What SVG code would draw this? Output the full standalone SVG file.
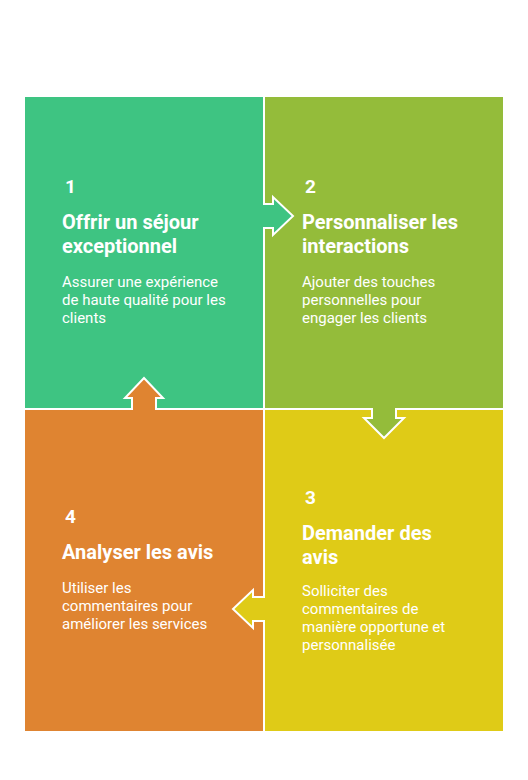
<svg xmlns="http://www.w3.org/2000/svg" width="528" height="780" viewBox="0 0 528 780">
<style>
.num{font-family:Roboto,"Liberation Sans",sans-serif;font-weight:700;font-size:19px;fill:#fff}
.ttl{font-family:Roboto,"Liberation Sans",sans-serif;font-weight:700;font-size:20px;fill:#fff}
.dsc{font-family:Roboto,"Liberation Sans",sans-serif;font-weight:400;font-size:15px;fill:#fff}
.out{fill:none;stroke:#fff;stroke-width:2;stroke-linejoin:miter}
</style>
<rect width="528" height="780" fill="#fff"/>
<g id="node1">
<rect x="25" y="97" width="238" height="311" fill="#3EC482"/>
<text class="num" x="65" y="193">1</text>
<text class="ttl" x="62" y="229">Offrir un séjour</text>
<text class="ttl" x="62" y="253">exceptionnel</text>
<text class="dsc" x="62" y="287">Assurer une expérience</text>
<text class="dsc" x="62" y="305">de haute qualité pour les</text>
<text class="dsc" x="62" y="323">clients</text>
</g>
<g id="node2">
<rect x="265" y="97" width="238" height="311" fill="#94BC3A"/>
<text class="num" x="305" y="193">2</text>
<text class="ttl" x="302" y="229">Personnaliser les</text>
<text class="ttl" x="302" y="253">interactions</text>
<text class="dsc" x="302" y="287">Ajouter des touches</text>
<text class="dsc" x="302" y="305">personnelles pour</text>
<text class="dsc" x="302" y="323">engager les clients</text>
</g>
<g id="node3">
<rect x="265" y="410" width="238" height="321" fill="#DFCB17"/>
<text class="num" x="305" y="504">3</text>
<text class="ttl" x="302" y="540">Demander des</text>
<text class="ttl" x="302" y="564">avis</text>
<text class="dsc" x="302" y="596">Solliciter des</text>
<text class="dsc" x="302" y="614">commentaires de</text>
<text class="dsc" x="302" y="632">manière opportune et</text>
<text class="dsc" x="302" y="650">personnalisée</text>
</g>
<g id="node4">
<rect x="25" y="410" width="238" height="321" fill="#DF8431"/>
<text class="num" x="65" y="523">4</text>
<text class="ttl" x="62" y="559">Analyser les avis</text>
<text class="dsc" x="62" y="593">Utiliser les</text>
<text class="dsc" x="62" y="611">commentaires pour</text>
<text class="dsc" x="62" y="629">améliorer les services</text>
</g>
<g id="connectors">
<polygon points="262,204 273,204 273,197 293,216 273,235 273,228 262,228" fill="#3EC482"/>
<path class="out" d="M263,204 H273 V197 L293,216 L273,235 V228 H263"/>
<polygon points="372,407 372,418 364,418 384,438 404,418 396,418 396,407" fill="#94BC3A"/>
<path class="out" d="M372,408 V418 H364 L384,438 L404,418 H396 V408"/>
<polygon points="266,597 253,597 253,590 233,609 253,628 253,621 266,621" fill="#DFCB17"/>
<path class="out" d="M265,597 H253 V590 L233,609 L253,628 V621 H265"/>
<polygon points="132,411 132,398 125,398 144,378 163,398 156,398 156,411" fill="#DF8431"/>
<path class="out" d="M132,410 V398 H125 L144,378 L163,398 H156 V410"/>
</g>
</svg>
